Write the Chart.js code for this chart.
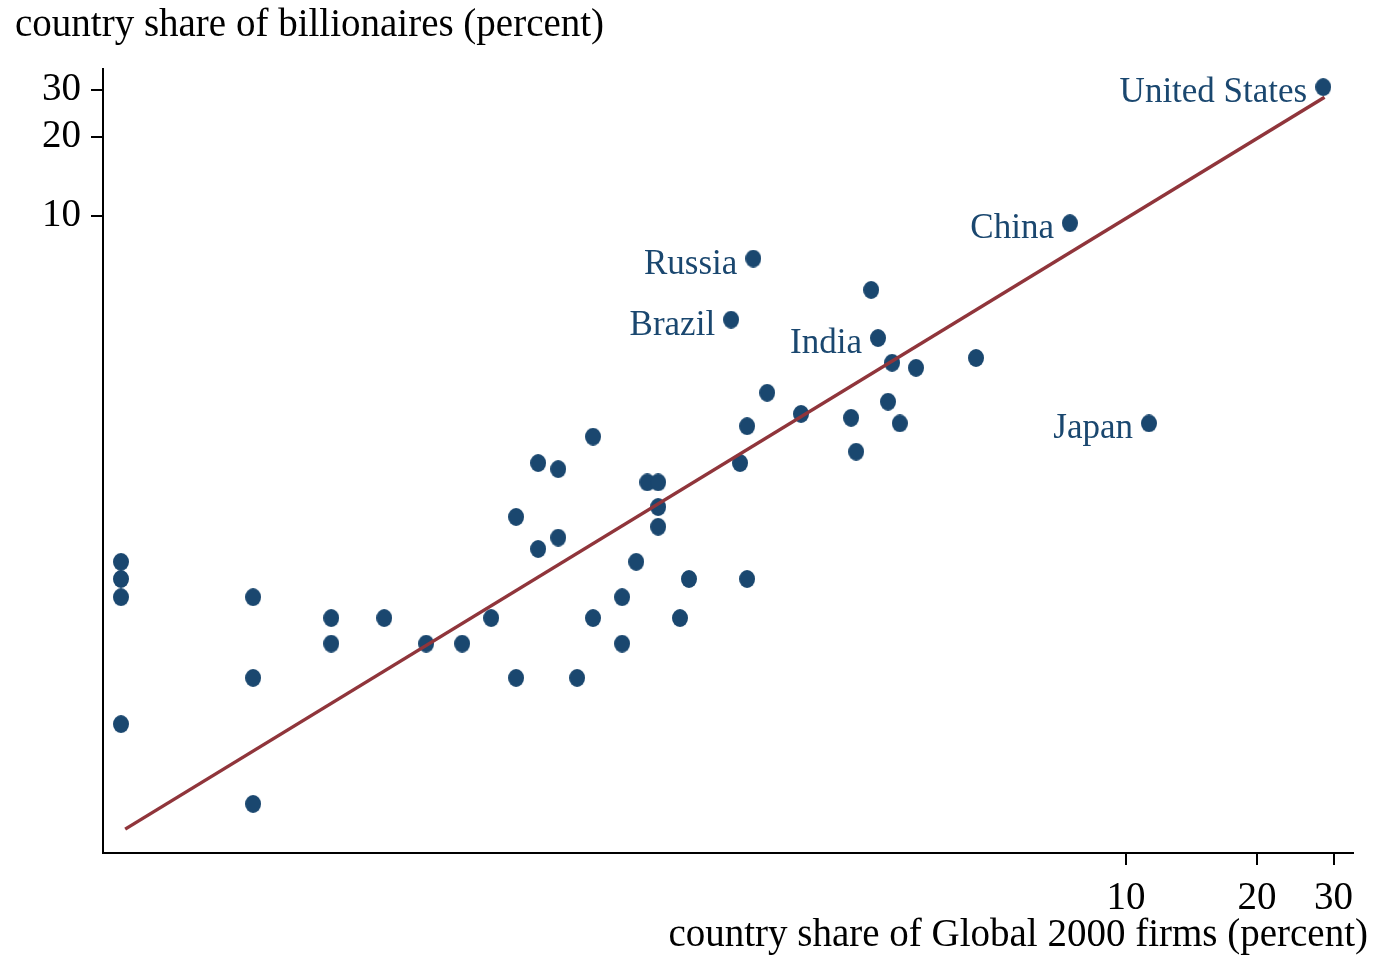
<!DOCTYPE html>
<html>
<head>
<meta charset="utf-8">
<title>Billionaires vs Global 2000 firms</title>
<script src="https://cdn.jsdelivr.net/npm/chart.js@4.4.1/dist/chart.umd.min.js"></script>
<style>
    body { margin: 0; background: #fff; }
    #wrap { width: 1376px; height: 955px; }
</style>
</head>
<body>
<div id="wrap"><canvas id="shareChart" width="1376" height="955"></canvas></div>
<script>
// country share of Global 2000 firms (percent)
const firmShare = [
    28.4, 7.43, 1.39, 1.236, 2.69, 11.29,
    2.594, 2.898, 3.29, 4.52, 1.496, 1.79, 2.333, 2.837, 3.02, 1.345, 2.396, 1.296,
    0.595, 0.445, 0.495, 0.793, 0.84, 0.84, 0.84, 0.396, 0.495, 0.445, 0.748, 0.989, 1.345,
    0.694, 0.595, 0.943, 0.347, 0.246, 0.2976, 0.694, 0.396, 0.547,
    0.197, 0.1488, 0.1488, 0.0984, 0.0984, 0.0984, 0.0489, 0.0489, 0.0489, 0.0489
];
// country share of billionaires (percent)
const billionaireShare = [
    30.8, 9.4, 6.9, 4.05, 3.45, 1.64,
    5.25, 2.78, 2.66, 2.9, 2.14, 1.78, 1.72, 1.98, 1.64, 1.6, 1.28, 1.16,
    1.46, 1.16, 1.1, 0.98, 0.98, 0.79, 0.665, 0.725, 0.605, 0.548, 0.49, 0.422, 0.422,
    0.36, 0.3, 0.3, 0.3, 0.24, 0.24, 0.24, 0.178, 0.178,
    0.3, 0.3, 0.24, 0.36, 0.178, 0.0593, 0.49, 0.422, 0.36, 0.119
];
// only a few points carry a name
const countryLabel = [
    "United States", "China", "Russia", "Brazil", "India", "Japan"
];
// fitted line (log-log), two ends
const fitX = [0.05, 28.6];
const fitY = [0.0476, 28.2];

const axisTicks = [10, 20, 30];

const NAVY = "#1a476f";
const MAROON = "#90353b";
const SERIF = "'Liberation Serif', 'DejaVu Serif', serif";

// slightly tall dot like the Stata marker
function makeDot(w, h, color) {
    const c = document.createElement("canvas");
    c.width = w;
    c.height = h;
    const g = c.getContext("2d");
    g.fillStyle = color;
    g.beginPath();
    g.ellipse(w / 2, h / 2, w / 2, h / 2, 0, 0, Math.PI * 2);
    g.fill();
    return c;
}

const points = firmShare.map((x, i) => ({ x: x, y: billionaireShare[i] }));
const fitLine = fitX.map((x, i) => ({ x: x, y: fitY[i] }));

// axis titles and country names, drawn as text
const textPlugin = {
    id: "textPlugin",
    afterDatasetsDraw(chart) {
        const ctx = chart.ctx;
        const meta = chart.getDatasetMeta(1);
        ctx.save();
        ctx.fillStyle = NAVY;
        ctx.font = "35px " + SERIF;
        ctx.textAlign = "right";
        ctx.textBaseline = "alphabetic";
        countryLabel.forEach((name, i) => {
            const el = meta.data[i];
            if (!el) return;
            ctx.fillText(name, el.x - 16, el.y + 15);
        });

        ctx.fillStyle = "#000";
        ctx.font = "39px " + SERIF;
        ctx.textAlign = "left";
        ctx.fillText("country share of billionaires (percent)", 15, 36);
        ctx.textAlign = "right";
        ctx.fillText("country share of Global 2000 firms (percent)", 1368, 946);
        ctx.restore();
    }
};

function onlyTicks(scale) {
    scale.ticks = axisTicks.map(v => ({ value: v }));
}

const ctx = document.getElementById("shareChart").getContext("2d");
new Chart(ctx, {
    type: "scatter",
    data: {
        datasets: [
            {
                type: "line",
                label: "fit",
                data: fitLine,
                borderColor: MAROON,
                borderWidth: 3.5,
                pointRadius: 0,
                fill: false,
                order: 0
            },
            {
                label: "countries",
                data: points,
                pointStyle: makeDot(16, 18, NAVY),
                pointRadius: 8,
                order: 1
            }
        ]
    },
    options: {
        responsive: false,
        animation: false,
        layout: { padding: { top: 69, right: 23, left: 0, bottom: 0 } },
        plugins: {
            legend: { display: false },
            tooltip: { enabled: false },
            title: { display: false }
        },
        scales: {
            x: {
                type: "logarithmic",
                bounds: "data",
                min: 0.04446,
                max: 33.25,
                afterBuildTicks: onlyTicks,
                afterFit: s => { s.height = 102; },
                border: { display: true, color: "#000", width: 2 },
                grid: { display: true, drawOnChartArea: false, drawTicks: true, tickLength: 12, color: "#000", lineWidth: 2 },
                ticks: {
                    autoSkip: false,
                    maxRotation: 0,
                    padding: 10,
                    color: "#000",
                    font: { family: SERIF, size: 39 },
                    callback: v => String(v)
                }
            },
            y: {
                type: "logarithmic",
                bounds: "data",
                min: 0.03865,
                max: 36.06,
                afterBuildTicks: onlyTicks,
                afterFit: s => { s.width = 103; },
                border: { display: true, color: "#000", width: 2 },
                grid: { display: true, drawOnChartArea: false, drawTicks: true, tickLength: 12, color: "#000", lineWidth: 2 },
                ticks: {
                    autoSkip: false,
                    padding: 10,
                    color: "#000",
                    font: { family: SERIF, size: 39 },
                    callback: v => String(v)
                }
            }
        }
    },
    plugins: [textPlugin]
});
</script>
</body>
</html>
